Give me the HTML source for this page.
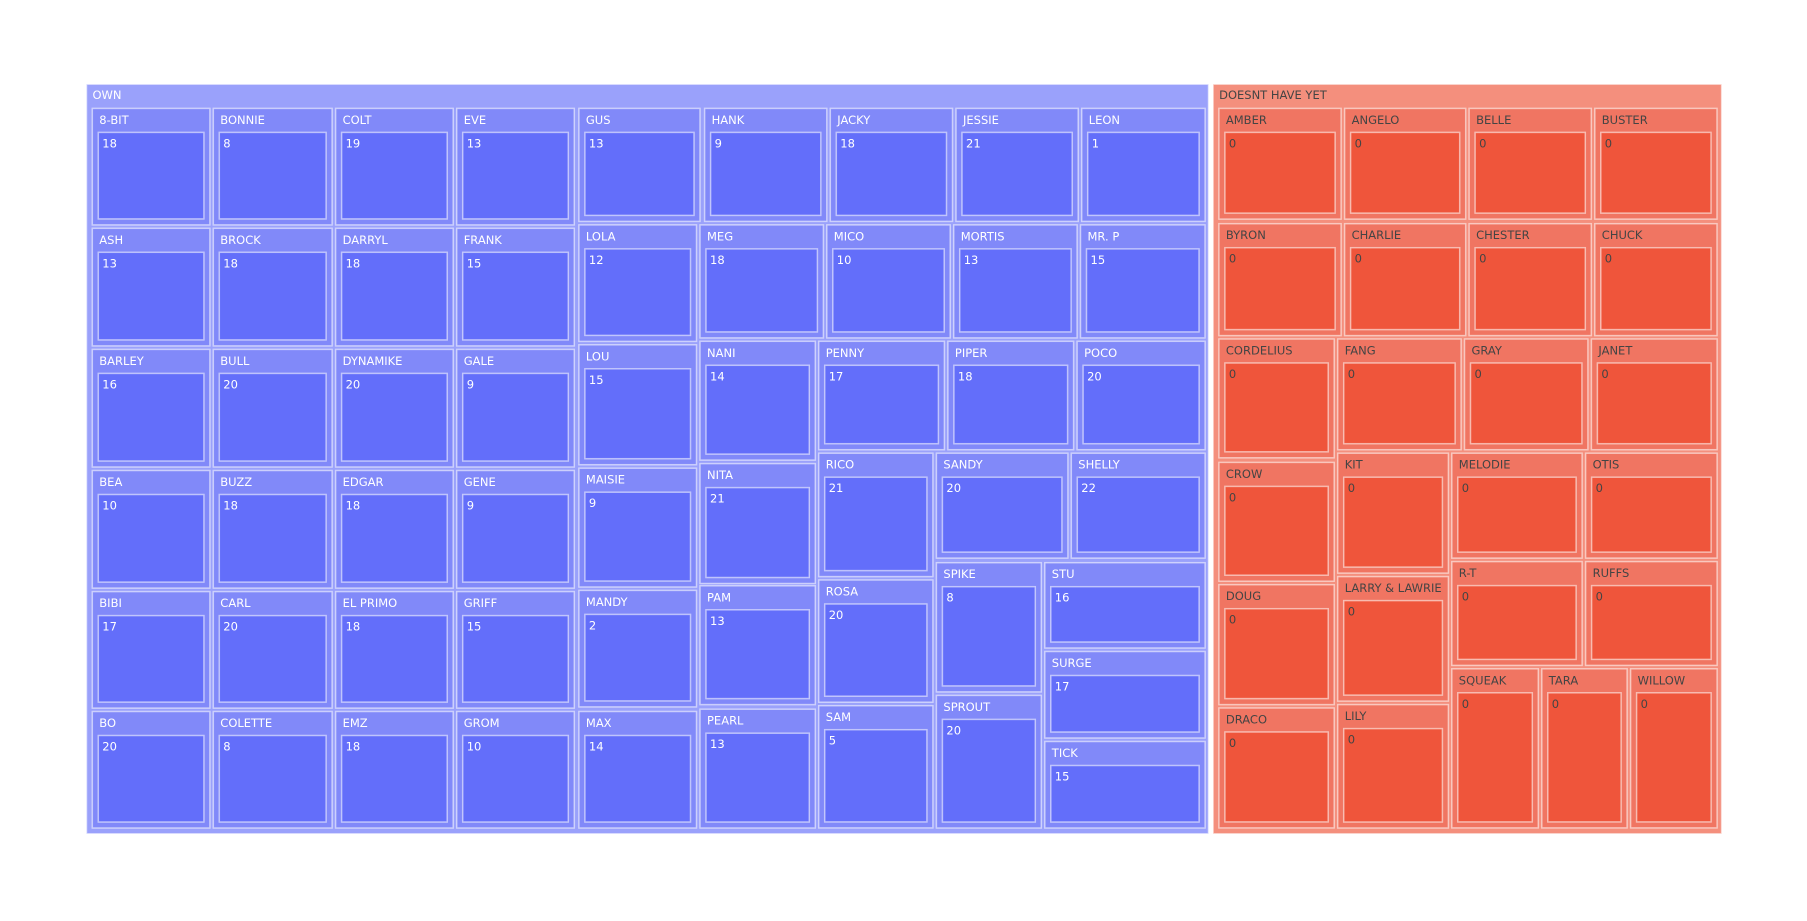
<!DOCTYPE html>
<html><head><meta charset="utf-8">
<style>
html,body{margin:0;padding:0;background:#fff;}
svg{display:block;font-family:"DejaVu Sans","Liberation Sans",sans-serif;}
</style></head>
<body>
<svg id="chart" width="1807" height="921" viewBox="0 0 1807 921" xmlns="http://www.w3.org/2000/svg"></svg>
<script>
// Data
const groups = ["OWN", "DOESNT HAVE YET"];
const ownNames = ["8-BIT","BONNIE","COLT","EVE","ASH","BROCK","DARRYL","FRANK","BARLEY","BULL","DYNAMIKE","GALE","BEA","BUZZ","EDGAR","GENE","BIBI","CARL","EL PRIMO","GRIFF","BO","COLETTE","EMZ","GROM",
"GUS","HANK","JACKY","JESSIE","LEON","LOLA","MEG","MICO","MORTIS","MR. P","LOU","MAISIE","MANDY","MAX","NANI","NITA","PAM","PEARL","PENNY","PIPER","POCO","RICO","SANDY","SHELLY","ROSA","SAM","SPIKE","SPROUT","STU","SURGE","TICK"];
const ownValues = [18,8,19,13,13,18,18,15,16,20,20,9,10,18,18,9,17,20,18,15,20,8,18,10,
13,9,18,21,1,12,18,10,13,15,15,9,2,14,14,21,13,13,17,18,20,21,20,22,20,5,8,20,16,17,15];
const dhyNames = ["AMBER","ANGELO","BELLE","BUSTER","BYRON","CHARLIE","CHESTER","CHUCK","CORDELIUS","CROW","DOUG","DRACO","FANG","GRAY","JANET","KIT","LARRY & LAWRIE","LILY","MELODIE","OTIS","R-T","RUFFS","SQUEAK","TARA","WILLOW"];
const dhyValues = [0,0,0,0,0,0,0,0,0,0,0,0,0,0,0,0,0,0,0,0,0,0,0,0,0];

// Layout (treemap tiling, in 1567-wide reference units, scaled below)
const S = 1807/1567;
const groupBoxes = [[75,73,1048,723],[1052,73,1493,723]];
const cx=[80,185,291,396], cxe=[182,288,393,498], ry=[94,198,303,408,513,617], rye=[195,300,405,510,614,718];
const ownBoxes = [];
for(let r=0;r<6;r++)for(let c=0;c<4;c++)ownBoxes.push([cx[c],ry[r],cxe[c],rye[r]]);
ownBoxes.push([502,94,607,192],[611,94,717,192],[720,94,826,192],[829,94,935,192],[938,94,1045,192],
[502,195,604,296],[607,195,714,293],[717,195,824,293],[827,195,934,293],[937,195,1045,293],
[502,299,604,403],[502,406,604,509],[502,512,604,613],[502,617,604,718],
[607,296,707,399],[607,402,707,506],[607,508,707,611],[607,615,707,718],
[710,296,819,390],[822,296,931,390],[934,296,1045,390],
[710,393,809,500],[812,393,926,484],[929,393,1045,484],
[710,503,809,609],[710,612,809,718],
[812,488,903,600],[812,603,903,718],
[906,488,1045,562],[906,565,1045,640],[906,643,1045,718]);
const dhyBoxes = [[1057,94,1163,190],[1166,94,1271,190],[1274,94,1380,190],[1383,94,1489,190],
[1057,194,1163,291],[1166,194,1271,291],[1274,194,1380,291],[1383,194,1489,291],
[1057,294,1157,397],[1057,401,1157,504],[1057,507,1157,611],[1057,614,1157,718],
[1160,294,1267,390],[1270,294,1377,390],[1380,294,1489,390],
[1160,393,1256,497],[1160,500,1256,608],[1160,611,1256,718],
[1259,393,1372,484],[1375,393,1489,484],[1259,487,1372,577],[1375,487,1489,577],
[1259,580,1334,718],[1337,580,1411,718],[1414,580,1489,718]];

const svg = document.getElementById('chart');
const NS = "http://www.w3.org/2000/svg";
function rect(b,fill,name,inter){
  const r=document.createElementNS(NS,'rect');
  r.setAttribute('x',(b[0]*S).toFixed(1));r.setAttribute('y',(b[1]*S).toFixed(1));
  r.setAttribute('width',((b[2]-b[0])*S).toFixed(1));r.setAttribute('height',((b[3]-b[1])*S).toFixed(1));
  r.setAttribute('fill',fill);r.setAttribute('stroke','rgba(255,255,255,0.55)');r.setAttribute('stroke-width','1.5');
  
  
  svg.appendChild(r);return r;
}
function text(x,y,s,fill,name){
  const t=document.createElementNS(NS,'text');
  t.setAttribute('x',x.toFixed(1));t.setAttribute('y',y.toFixed(1));
  t.setAttribute('fill',fill);t.setAttribute('font-size','11.5');
  t.textContent=s;
  
  
  svg.appendChild(t);
}
const palettes=[{g:'#9aa1fb',m:'#8189f9',l:'#636efa',t:'#ffffff'},{g:'#f48f7d',m:'#f07562',l:'#ef553b',t:'#444444'}];
const sets=[[ownNames,ownValues,ownBoxes],[dhyNames,dhyValues,dhyBoxes]];
groups.forEach((g,gi)=>{
  const p=palettes[gi], gb=groupBoxes[gi];
  rect(gb,p.g,'group-'+g.toLowerCase().replace(/\s+/g,'-'),'true');
  text(gb[0]*S+6,gb[1]*S+15,g,p.t,'group-label');
  const [names,vals,boxes]=sets[gi];
  names.forEach((n,i)=>{
    const b=boxes[i];
    rect(b,p.m,'tile-'+n.toLowerCase().replace(/[^a-z0-9]+/g,'-'),'true');
    text(b[0]*S+7,b[1]*S+15.5,n,p.t,'tile-label');
    const ib=[b[0]+6/S,b[1]+24/S,b[2]-6/S,b[3]-6/S];
    rect(ib,p.l,'leaf-value','true');
    text(ib[0]*S+4,ib[1]*S+15,String(vals[i]),p.t,'leaf-value-label');
  });
});
</script>
</body></html>
